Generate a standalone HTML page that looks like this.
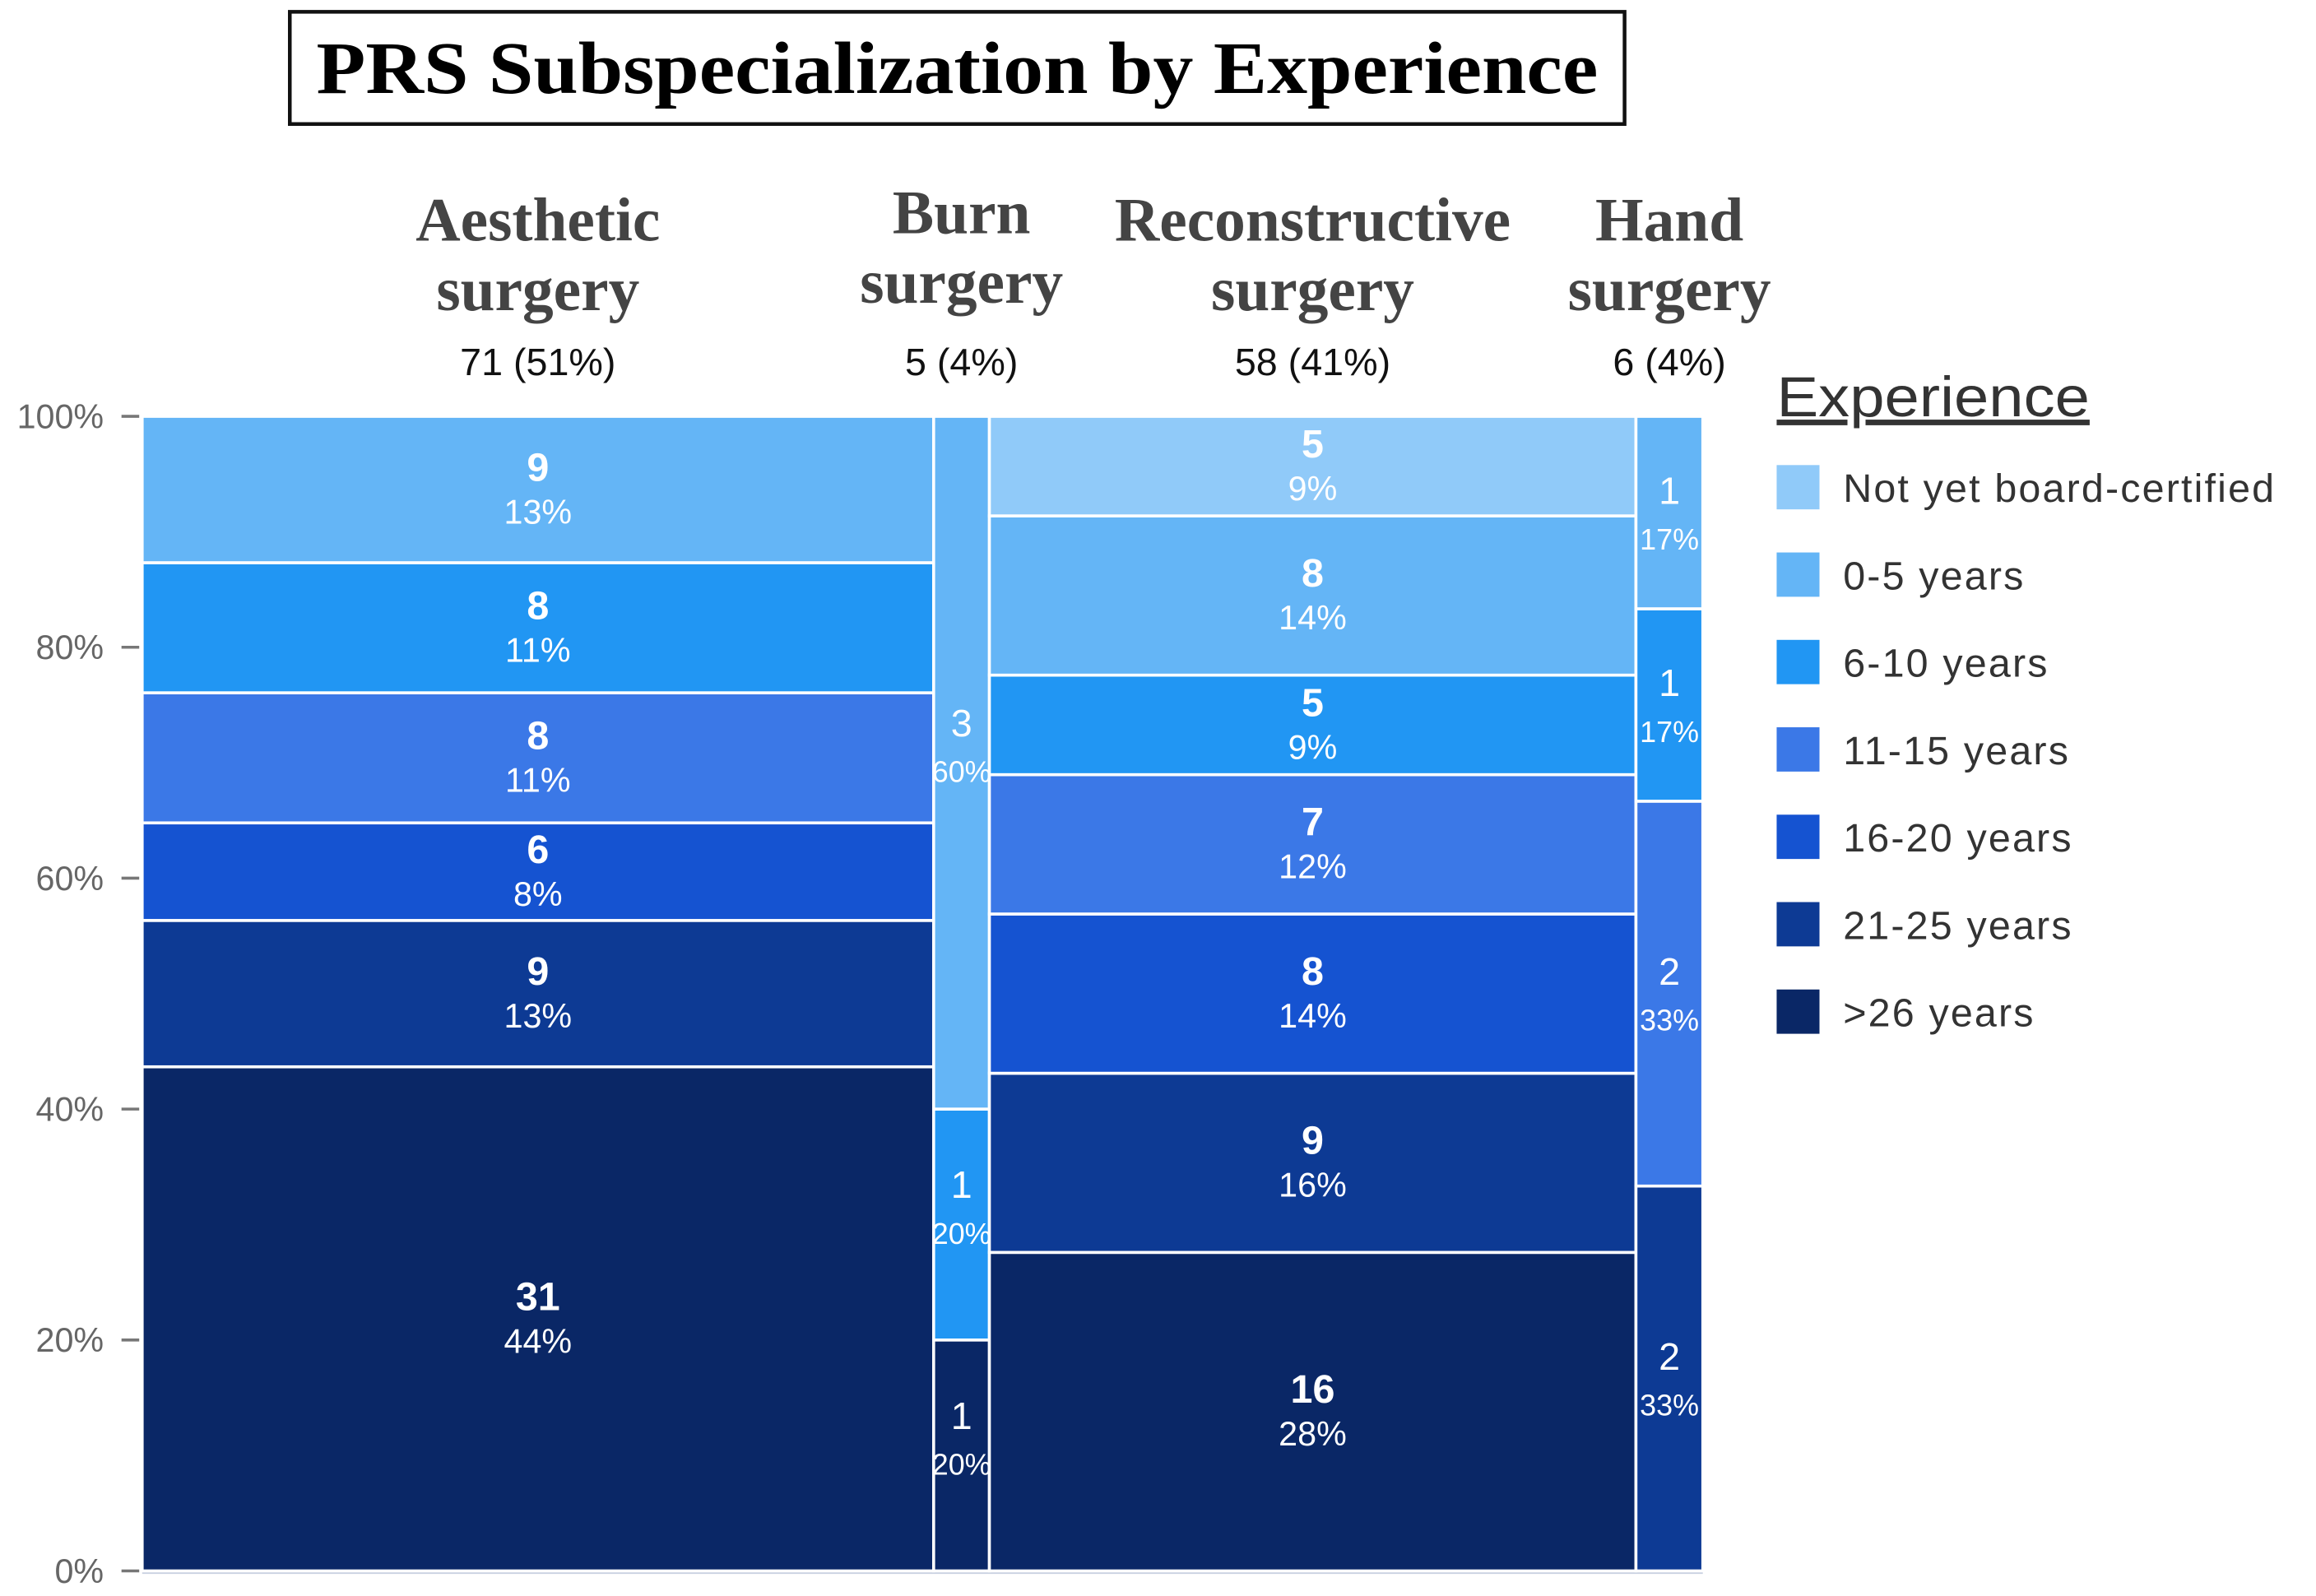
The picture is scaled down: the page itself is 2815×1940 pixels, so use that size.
<!DOCTYPE html>
<html><head><meta charset="utf-8">
<style>html,body{margin:0;padding:0;background:#fff;}svg{display:block;}</style>
</head><body>
<svg id="chart" width="2815" height="1940" viewBox="0 0 1568 1081" xmlns="http://www.w3.org/2000/svg">
<rect width="1568" height="1081" fill="#fff"/>
<g>
<rect x="196" y="8" width="904" height="76" fill="#fff" stroke="#111" stroke-width="2.5"/>
<text x="214" y="63" textLength="868" lengthAdjust="spacingAndGlyphs" font-family="Liberation Serif, serif" font-weight="bold" font-size="50" fill="#000">PRS Subspecialization by Experience</text>
</g>
<g id="cats"></g>
<g id="yaxis"></g>
<g id="bars"></g>
<g id="legend"></g>
</svg>
<script>
const categories = ["Aesthetic surgery","Burn surgery","Reconstructive surgery","Hand surgery"];
const catLine1 = ["Aesthetic","Burn","Reconstructive","Hand"];
const groups = [">26 years","21-25 years","16-20 years","11-15 years","6-10 years","0-5 years","Not yet board-certified"];
const aesthetic = [31,9,6,8,8,9,0];
const burn = [1,0,0,0,1,3,0];
const reconstructive = [16,9,8,7,5,8,5];
const hand = [0,2,0,2,1,1,0];
const yTicks = [0,20,40,60,80,100];
const series = [aesthetic,burn,reconstructive,hand];
const colors = ["#0a2766","#0d3a94","#1553d1","#3b78e7","#2196f3","#64b5f6","#90caf9"];
const NS="http://www.w3.org/2000/svg";
function mk(tag,attrs,parent,txt){const e=document.createElementNS(NS,tag);for(const k in attrs)e.setAttribute(k,attrs[k]);if(txt!==undefined)e.textContent=txt;parent.appendChild(e);return e;}
const X0=96,X1=1153,Y0=1064,Y1=282;
const totals=series.map(s=>s.reduce((a,b)=>a+b,0));
const grand=totals.reduce((a,b)=>a+b,0);
function xScale(v){return X0+(X1-X0)*v/grand;}
function yScale(p){return Y0-(Y0-Y1)*p/100;}
const ya=document.getElementById('yaxis');
yTicks.forEach(t=>{
 const y=yScale(t);
 const ln=mk('line',{x1:82,x2:94,y1:y,y2:y,stroke:'#777','stroke-width':2},ya);
 
 
 const tx=mk('text',{x:70,y:y+8,'text-anchor':'end','font-family':'Liberation Sans, sans-serif','font-size':23,fill:'#666'},ya,t+'%');
 
 
});
const bl=mk('line',{x1:96,x2:1153,y1:Y0+1,y2:Y0+1,stroke:'#c8d0e0','stroke-width':2},ya);


const bg=document.getElementById('bars'), cg=document.getElementById('cats');
let cum=0;
const catWidths=[185,118,296,148];
series.forEach((s,ci)=>{
 const left=xScale(cum);
 const w=xScale(cum+totals[ci])-left;
 cum+=totals[ci];
 const cx=left+w/2;
 const narrow=w<80;
 const lblOff=(ci===1)?-12:0;
 let acc=0;
 s.forEach((v,gi)=>{
  if(v<=0)return;
  const p0=acc/totals[ci]*100, p1=(acc+v)/totals[ci]*100;
  acc+=v;
  const yb=yScale(p0), yt=yScale(p1);
  const r=mk('rect',{x:left,y:yt,width:w,height:yb-yt,fill:colors[gi],stroke:'#fff','stroke-width':2},bg);
  
  
  const cy=(yt+yb)/2+lblOff;
  const t1=mk('text',{x:cx,y:cy-6,'text-anchor':'middle','font-family':'Liberation Sans, sans-serif','font-weight':narrow?'normal':'bold','font-size':narrow?26:27,fill:'#fff'},bg,String(v));
  
  
  const t2=mk('text',{x:cx,y:cy+(narrow?25:23),'text-anchor':'middle','font-family':'Liberation Sans, sans-serif','font-size':narrow?20:23,fill:'#fff'},bg,Math.round(v/totals[ci]*100)+'%');
  
  
 });
 const off=(ci===1)?-5:0;
 const l1w=catWidths[ci]*(ci===1?0.52:1);
 const h1=mk('text',{x:cx,y:163+off,'text-anchor':'middle','font-family':'Liberation Serif, serif','font-weight':'bold','font-size':42,fill:'#444'},cg,catLine1[ci]);
 
 
 const h2=mk('text',{x:cx,y:210+off,'text-anchor':'middle','font-family':'Liberation Serif, serif','font-weight':'bold','font-size':42,fill:'#444'},cg,'surgery');
 
 
 const h3=mk('text',{x:cx,y:254,'text-anchor':'middle','font-family':'Liberation Sans, sans-serif','font-size':26,fill:'#111'},cg,totals[ci]+' ('+Math.round(totals[ci]/grand*100)+'%)');
 
 
});
const lg=document.getElementById('legend');
const lt=mk('text',{x:1203,y:282,textLength:212,lengthAdjust:'spacingAndGlyphs','font-family':'Liberation Sans, sans-serif','font-size':38,fill:'#333','text-decoration':'underline'},lg,'Experience');


for(let i=0;i<groups.length;i++){
 const gi=groups.length-1-i;
 const y=330+i*59.2;
 const sw=mk('rect',{x:1203,y:y-15,width:29,height:30,fill:colors[gi]},lg);
 
 
 const tx=mk('text',{x:1248,y:y+10,'font-family':'Liberation Sans, sans-serif','font-size':27,'letter-spacing':1.2,fill:'#333'},lg,groups[gi]);
 
 
}
</script>
</body></html>
